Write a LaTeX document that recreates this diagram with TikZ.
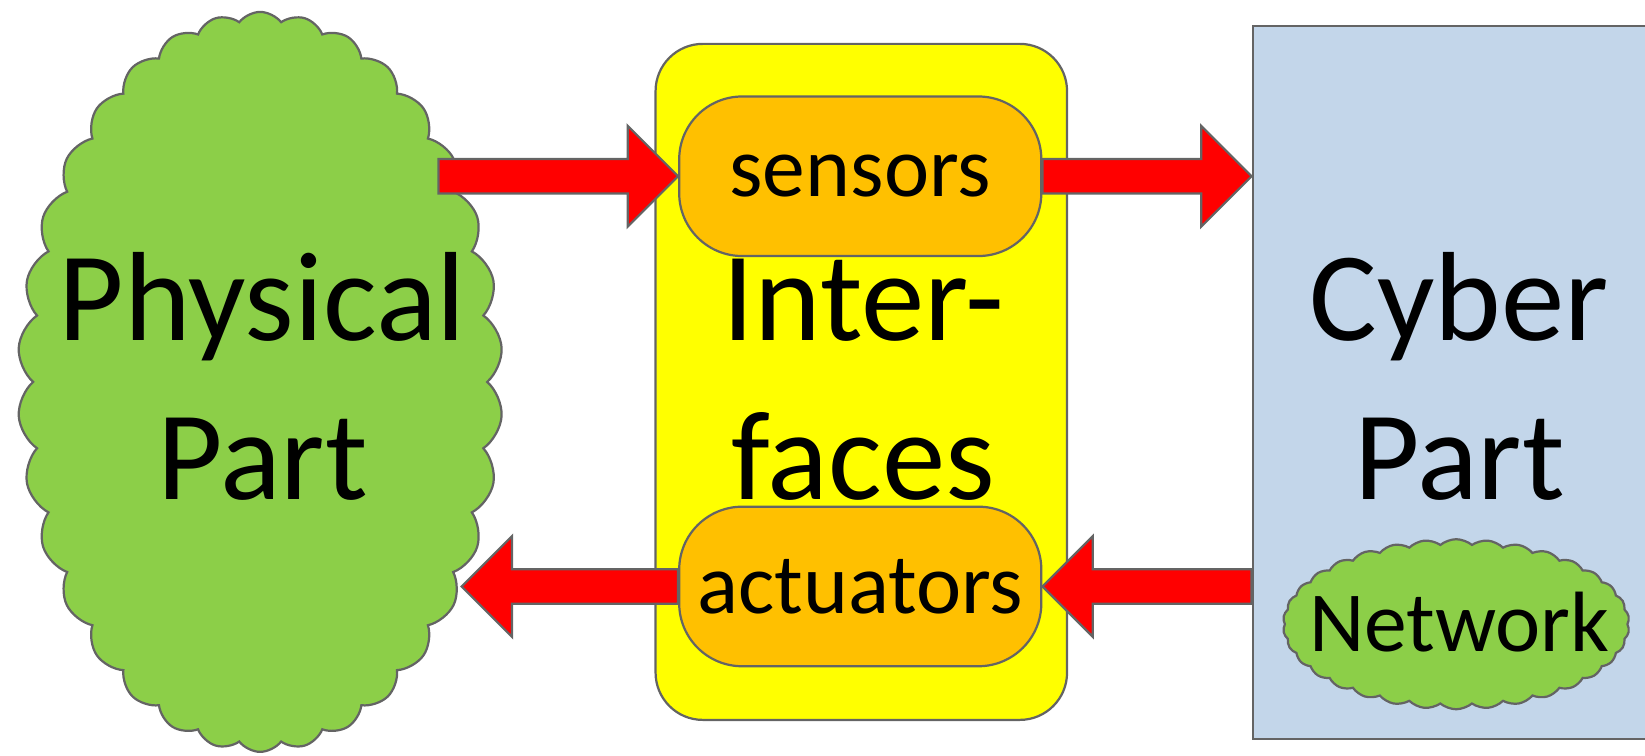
\documentclass[tikz,border=0pt]{standalone}
\usepackage{fontspec}
\setmainfont{Carlito}
\usetikzlibrary{shapes.symbols,calc}
\definecolor{cgreen}{RGB}{140,207,72}
\definecolor{cyellow}{RGB}{255,255,0}
\definecolor{corange}{RGB}{255,192,0}
\definecolor{cred}{RGB}{255,0,0}
\definecolor{cblue}{RGB}{195,214,234}
\definecolor{cline}{RGB}{100,100,100}
\tikzset{
  outl/.style={draw=cline, line width=0.6pt},
  bigtxt/.style={align=center, font=\fontsize{34.4pt}{43pt}\selectfont, inner sep=0pt},
  smalltxt/.style={font=\fontsize{23.2pt}{27pt}\selectfont},
  blockarr/.style={outl, fill=cred, line join=miter},
  puffy/.style={cloud, outl, fill=cgreen, inner sep=0pt},
  pill/.style={outl, fill=corange, rounded corners=0.6cm, minimum width=3.45cm, minimum height=1.52cm, smalltxt, inner sep=0pt}
}
% right-pointing block arrow: tail #1, tip #2
\newcommand\arrR[2]{\draw[blockarr] let \p1=(#1), \p2=(#2) in
  (\x1,\y2+4.69pt) -- (\x2-13.66pt,\y2+4.69pt) -- (\x2-13.66pt,\y2+13.66pt) -- (\x2,\y2)
  -- (\x2-13.66pt,\y2-13.66pt) -- (\x2-13.66pt,\y2-4.69pt) -- (\x1,\y2-4.69pt) -- cycle;}
% left-pointing block arrow: tail #1, tip #2
\newcommand\arrL[2]{\draw[blockarr] let \p1=(#1), \p2=(#2) in
  (\x1,\y2+4.69pt) -- (\x2+13.66pt,\y2+4.69pt) -- (\x2+13.66pt,\y2+13.66pt) -- (\x2,\y2)
  -- (\x2+13.66pt,\y2-13.66pt) -- (\x2+13.66pt,\y2-4.69pt) -- (\x1,\y2-4.69pt) -- cycle;}
\begin{document}
\begin{tikzpicture}[x=0.01cm,y=-0.01cm]
\useasboundingbox (0,0) rectangle (1568,720);
\clip (0,0) rectangle (1568,720);
% physical part
\node[puffy, cloud puffs=34, cloud puff arc=105, minimum width=4.62cm, minimum height=7.05cm] (phys) at (248,364) {};
\node[bigtxt] (physlbl) at (250,359) {Physical\\Part};
% interfaces
\node[outl, fill=cyellow, rounded corners=0.45cm, minimum width=3.92cm, minimum height=6.44cm, inner sep=0pt] (iface) at (821,364) {};
\node[bigtxt] (ifacelbl) at (823,362) {Inter-\\faces};
\node[pill] (sens) at (820,168) {sensors};
\node[pill] (act) at (820,559) {actuators};
% cyber part
\node[outl, fill=cblue, anchor=north west, minimum width=4.2cm, minimum height=6.79cm, inner sep=0pt] (cyber) at (1193,24) {};
\node[bigtxt] (cyberlbl) at (1391,359) {Cyber\\Part};
\node[puffy, cloud puffs=34, cloud puff arc=80, minimum width=3.3cm, minimum height=1.62cm] (net) at (1388,595) {};
\node[smalltxt, inner sep=0pt] (netlbl) at (1391,593) {Network};
% connectors
\coordinate (ptail) at (418,168);
\coordinate (ptip) at (440,559);
\arrR{ptail}{sens.west}
\arrR{sens.east}{cyber.west |- sens.east}
\arrL{cyber.west |- act.east}{act.east}
\arrL{act.west}{ptip}
\end{tikzpicture}
\end{document}
